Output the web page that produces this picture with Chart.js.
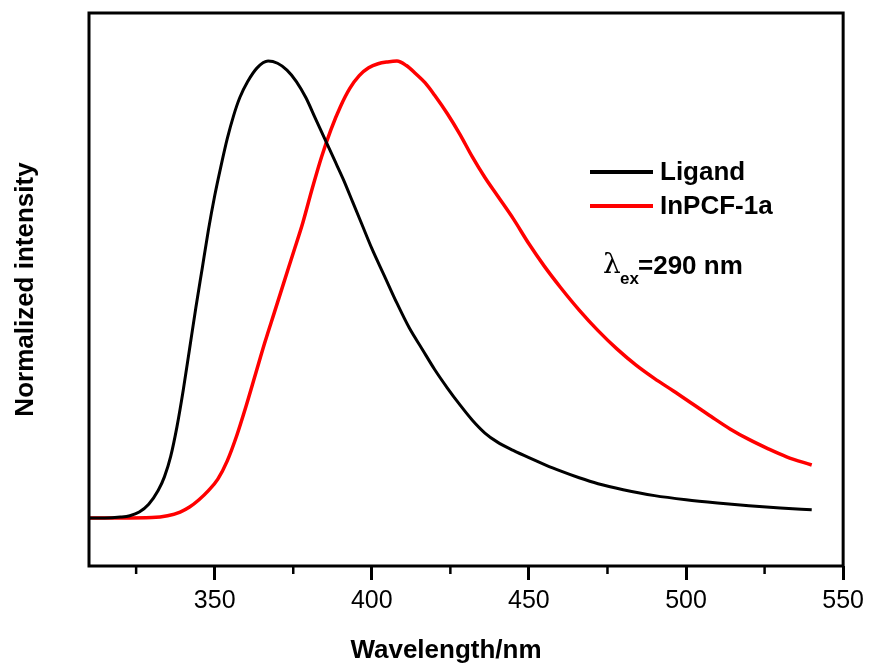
<!DOCTYPE html>
<html>
<head>
<meta charset="utf-8">
<script src="https://cdn.jsdelivr.net/npm/chart.js@4.4.1/dist/chart.umd.min.js"></script>
<style>
  html, body { margin: 0; padding: 0; background: #fff; }
  #wrap { width: 870px; height: 669px; }
</style>
</head>
<body>
<div id="wrap"><canvas id="chart" width="870" height="669"></canvas></div>
<script>
// values (normalized, baseline = 0, peak = 1)
const ligandNm = [310, 315, 320, 323, 326, 329, 332, 334, 336, 338, 340, 342, 344, 346, 348, 350, 352, 354, 356, 358, 360.5, 363.5, 367, 370, 373, 376, 379, 382, 385, 388, 391, 394, 397, 400, 404, 408, 412, 416, 420, 424, 428, 432, 436, 440, 445, 450, 455, 460, 466, 472, 480, 490, 500, 510, 520, 530, 540];
const ligandInt = [0, 0, 0.002, 0.005, 0.013, 0.03, 0.06, 0.09, 0.135, 0.2, 0.28, 0.37, 0.46, 0.545, 0.63, 0.705, 0.77, 0.83, 0.88, 0.92, 0.955, 0.985, 1.0, 0.995, 0.98, 0.955, 0.92, 0.875, 0.83, 0.785, 0.74, 0.69, 0.64, 0.59, 0.53, 0.47, 0.415, 0.37, 0.325, 0.285, 0.248, 0.214, 0.186, 0.166, 0.148, 0.132, 0.117, 0.103, 0.088, 0.075, 0.062, 0.049, 0.04, 0.033, 0.027, 0.022, 0.018];

const inpcfNm = [310, 320, 330, 335, 339, 342, 345, 348, 351, 354, 357, 360, 363, 366, 369, 372, 375, 378, 381, 384, 387, 390, 393, 396, 399, 402, 405, 408, 411, 414, 417, 420, 424, 428, 432, 436, 440, 445, 450, 455, 460, 466, 472, 478, 484, 490, 496, 502, 508, 514, 520, 526, 532, 540];
const inpcfInt = [0, 0, 0.001, 0.005, 0.013, 0.024, 0.04, 0.06, 0.085, 0.125, 0.18, 0.245, 0.315, 0.385, 0.45, 0.515, 0.58, 0.645, 0.72, 0.79, 0.85, 0.9, 0.94, 0.968, 0.985, 0.994, 0.998, 1.0, 0.99, 0.972, 0.952, 0.925, 0.885, 0.84, 0.79, 0.745, 0.705, 0.655, 0.6, 0.55, 0.505, 0.455, 0.41, 0.37, 0.335, 0.305, 0.278, 0.25, 0.222, 0.195, 0.172, 0.152, 0.134, 0.116];

const majorTicks = [350, 400, 450, 500, 550];
const minorTicks = [325, 375, 425, 475, 525];
const seriesNames = ['Ligand', 'InPCF-1a'];

const toPoints = (xs, ys) => xs.map((x, i) => ({ x: x, y: ys[i] }));

// frame, minor ticks, legend and note drawn over the chart
const decor = {
    id: 'decor',
    afterDraw(chart) {
        const { ctx, chartArea: a, scales } = chart;
        ctx.save();
        ctx.strokeStyle = '#000';
        ctx.lineWidth = 3;
        ctx.strokeRect(a.left, a.top, a.right - a.left, a.bottom - a.top);

        ctx.lineWidth = 2.5;
        minorTicks.forEach(v => {
            const px = scales.x.getPixelForValue(v);
            ctx.beginPath();
            ctx.moveTo(px, a.bottom);
            ctx.lineTo(px, a.bottom + 8);
            ctx.stroke();
        });

        // legend
        ctx.textBaseline = 'middle';
        ctx.textAlign = 'left';
        ctx.font = 'bold 26px "Liberation Sans", Arial, sans-serif';
        chart.data.datasets.forEach((ds, i) => {
            const y = 172 + i * 34;
            ctx.strokeStyle = ds.borderColor;
            ctx.lineWidth = 4;
            ctx.beginPath();
            ctx.moveTo(590, y);
            ctx.lineTo(653, y);
            ctx.stroke();
            ctx.fillStyle = '#000';
            ctx.fillText(ds.label, 660, y + 1);
        });

        // excitation note
        ctx.fillStyle = '#000';
        ctx.font = '28px "DejaVu Serif", serif';
        ctx.fillText('\u03BB', 603, 266);
        ctx.font = 'bold 17px "Liberation Sans", Arial, sans-serif';
        ctx.fillText('ex', 620, 279);
        ctx.font = 'bold 26px "Liberation Sans", Arial, sans-serif';
        ctx.fillText('=290 nm', 638, 267);

        // x title
        ctx.textAlign = 'center';
        ctx.fillText('Wavelength/nm', 446, 651);
        ctx.restore();
    }
};

new Chart(document.getElementById('chart'), {
    type: 'line',
    data: {
        datasets: [{
            label: seriesNames[0],
            data: toPoints(ligandNm, ligandInt),
            borderColor: '#000000',
            borderWidth: 3,
            pointRadius: 0,
            cubicInterpolationMode: 'monotone'
        }, {
            label: seriesNames[1],
            data: toPoints(inpcfNm, inpcfInt),
            borderColor: '#ff0000',
            borderWidth: 3.5,
            pointRadius: 0,
            cubicInterpolationMode: 'monotone'
        }]
    },
    options: {
        responsive: false,
        animation: false,
        devicePixelRatio: 1,
        layout: { padding: { left: 0, right: 25, top: 13, bottom: 0 } },
        plugins: { legend: { display: false }, tooltip: { enabled: false } },
        scales: {
            x: {
                type: 'linear',
                min: 310,
                max: 550,
                afterBuildTicks: s => { s.ticks = majorTicks.map(v => ({ value: v })); },
                afterFit: s => { s.height = 103; },
                grid: { drawOnChartArea: false, drawTicks: true, tickLength: 14, tickWidth: 3, tickColor: '#000' },
                border: { display: false },
                ticks: {
                    color: '#000',
                    font: { family: '"Liberation Sans", Arial, sans-serif', size: 25 },
                    padding: 6,
                    maxRotation: 0,
                    autoSkip: false
                }
            },
            y: {
                min: -0.105,
                max: 1.105,
                afterFit: s => { s.width = 89; },
                grid: { display: false },
                border: { display: false },
                ticks: { display: false },
                title: {
                    display: true,
                    text: 'Normalized intensity',
                    color: '#000',
                    font: { family: '"Liberation Sans", Arial, sans-serif', size: 26, weight: 'bold' },
                    padding: { top: 10, bottom: 0 }
                }
            }
        }
    },
    plugins: [decor]
});
</script>
</body>
</html>
